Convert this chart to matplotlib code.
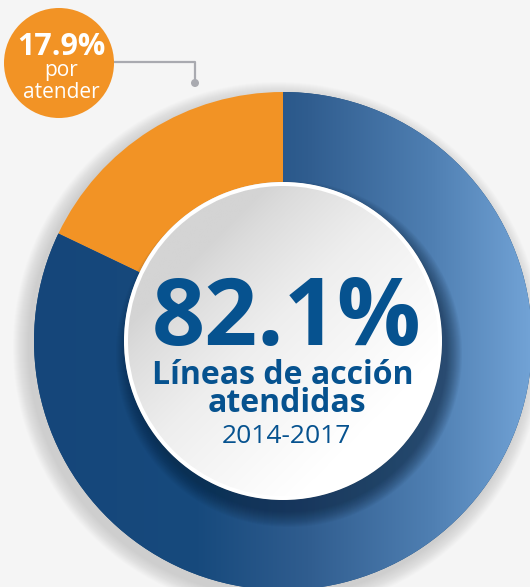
import numpy as np
import matplotlib.pyplot as plt
from matplotlib.colors import LinearSegmentedColormap
from matplotlib.patches import Circle

# datos del gráfico
categorias = ['por atender', 'Líneas de acción atendidas']
porcentajes = [17.9, 82.1]
periodo = '2014-2017'
colores = ['#f29325', '#164878']

W, H = 530, 587
cx, cy = 283, H - 341      # centro de la dona (coordenadas con y hacia arriba)
r_ext, r_int = 249, 159

fig = plt.figure(figsize=(W / 100, H / 100), dpi=100)
fig.patch.set_facecolor('#f5f5f5')
ax = fig.add_axes([0, 0, 1, 1])
ax.set_facecolor('#f5f5f5')

# sombra exterior suave
for k in range(16, 0, -1):
    ax.add_patch(Circle((cx - 5, cy - 6), r_ext + k, color='#7a7a7a', alpha=0.02, lw=0, zorder=1))

wedges, _ = ax.pie(porcentajes, colors=colores, startangle=90, counterclock=True,
                   center=(cx, cy), radius=r_ext,
                   wedgeprops=dict(width=r_ext - r_int, linewidth=0))
for w in wedges:
    w.set_zorder(2)

# degradado horizontal del segmento azul
azul = LinearSegmentedColormap.from_list('azul', [(0.0, '#15467a'), (0.33, '#174a7d'),
                                                 (0.55, '#305d8f'), (0.8, '#4f7fb2'),
                                                 (1.0, '#72a3d6')])
grad = np.linspace(0, 1, 256).reshape(1, -1)
im = ax.imshow(grad, cmap=azul, extent=(cx - r_ext, cx + r_ext, cy - r_ext, cy + r_ext),
               aspect='auto', zorder=3)
im.set_clip_path(wedges[1])

# sombra del disco central sobre la dona (hacia abajo a la derecha)
for k in range(16, 0, -1):
    ax.add_patch(Circle((cx + 6, cy - 13), r_int + k - 2, color='#0a2038', alpha=0.045,
                        lw=0, zorder=4))

# disco central
ax.add_patch(Circle((cx, cy), r_int, color='white', lw=0, zorder=5))
n = 300
xs = np.linspace(-1, 1, n)
X, Y = np.meshgrid(xs, xs[::-1])
t = np.clip((X - Y) / 2.2 + 0.5, 0, 1) ** 0.8
gris = LinearSegmentedColormap.from_list('gris', ['#d4d4d4', '#eeeeee', '#ffffff'])
r_disco = r_int - 4
disco = ax.imshow(t, cmap=gris, vmin=0, vmax=1,
                  extent=(cx - r_disco, cx + r_disco, cy - r_disco, cy + r_disco),
                  aspect='auto', zorder=6)
clip = Circle((cx, cy), r_disco, transform=ax.transData)
disco.set_clip_path(clip)

azul_texto = '#06528f'
ax.text(287, H - 345, f'{porcentajes[1]}%', ha='center', va='baseline', fontsize=67,
        fontweight='bold', family='Open Sans', color=azul_texto, zorder=7)
ax.text(283, H - 384, 'Líneas de acción', ha='center', va='baseline', fontsize=23,
        fontweight='bold', family='Open Sans', color=azul_texto, zorder=7)
ax.text(287, H - 412, 'atendidas', ha='center', va='baseline', fontsize=23,
        fontweight='bold', family='Open Sans', color=azul_texto, zorder=7)
ax.text(286, H - 443, periodo, ha='center', va='baseline', fontsize=19,
        family='Open Sans', color=azul_texto, zorder=7)

# globo del porcentaje por atender
ax.plot([114, 195, 195], [H - 62, H - 62, H - 80], color='#a9aab0', lw=1.6, zorder=2)
ax.add_patch(Circle((195, H - 83), 4, color='#a9aab0', lw=0, zorder=2))
ax.add_patch(Circle((59, H - 63), 55, color=colores[0], lw=0, zorder=3))
ax.text(61, H - 55, f'{porcentajes[0]}%', ha='center', va='baseline', fontsize=22,
        fontweight='bold', family='Open Sans', color='white', zorder=4)
ax.text(61, H - 76, 'por', ha='center', va='baseline', fontsize=15,
        family='Open Sans', color='white', zorder=4)
ax.text(61, H - 98, 'atender', ha='center', va='baseline', fontsize=15,
        family='Open Sans', color='white', zorder=4)

ax.set_xlim(0, W)
ax.set_ylim(0, H)
ax.set_aspect('auto')
ax.axis('off')

fig.savefig('out.png', dpi=100, facecolor=fig.get_facecolor())
